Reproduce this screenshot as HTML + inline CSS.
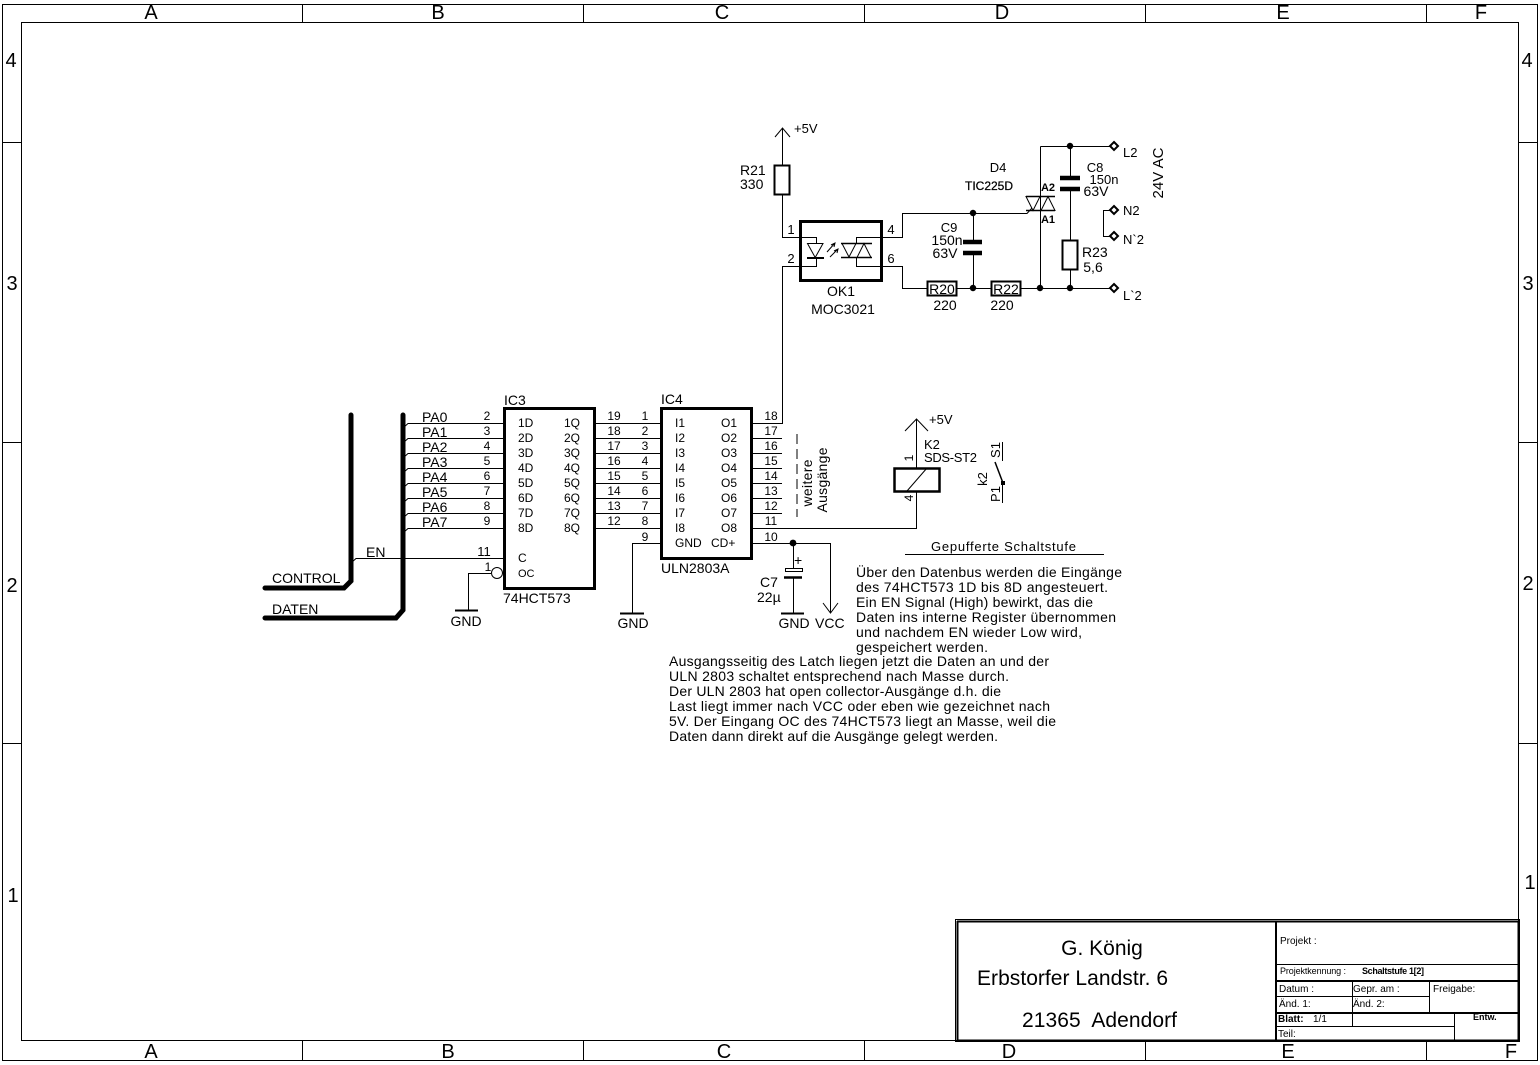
<!DOCTYPE html>
<html><head><meta charset="utf-8"><title>Schaltstufe</title>
<style>
html,body{margin:0;padding:0;background:#fff;width:1540px;height:1065px;overflow:hidden}
svg{display:block}
text{font-family:"Liberation Sans",Arial,sans-serif;fill:#000;font-size:14px}
.s12{font-size:12px}.s13{font-size:13px}.s10{font-size:10px}.s11{font-size:11px}.s9{font-size:9px}.s14{font-size:14px}
.m{text-anchor:middle}
.fr{font-size:20px;text-anchor:middle}
.big{font-size:21px}
.l{fill:none;stroke:#000;stroke-width:1}
.t{fill:none;stroke:#000;stroke-width:3}
.b{fill:none;stroke:#000;stroke-width:5;stroke-linecap:round;stroke-linejoin:miter}
</style></head><body>
<svg width="1540" height="1065" viewBox="0 0 1540 1065" xmlns="http://www.w3.org/2000/svg">
<rect width="1540" height="1065" fill="#fff"/>
<!-- frame -->
<rect class="l" x="2.5" y="4.5" width="1535" height="1056"/>
<rect class="l" x="21.5" y="22.5" width="1497" height="1018"/>
<path class="l" d="M302.5 4V22M583.5 4V22M864.5 4V22M1145.5 4V22M1426.5 4V22M302.5 1041V1060M583.5 1041V1060M864.5 1041V1060M1145.5 1041V1060M1426.5 1041V1060M2 142.5H21M2 442.5H21M2 743.5H21M1519 142.5H1537M1519 442.5H1537M1519 743.5H1537"/>
<g>
<text class="fr" x="151" y="19">A</text><text class="fr" x="438" y="19">B</text><text class="fr" x="722" y="19">C</text><text class="fr" x="1002" y="19">D</text><text class="fr" x="1283" y="19">E</text><text class="fr" x="1481" y="19">F</text>
<text class="fr" x="151" y="1058">A</text><text class="fr" x="448" y="1058">B</text><text class="fr" x="724" y="1058">C</text><text class="fr" x="1009" y="1058">D</text><text class="fr" x="1288" y="1058">E</text><text class="fr" x="1511" y="1058">F</text>
<text class="fr" x="11" y="67">4</text><text class="fr" x="12" y="290">3</text><text class="fr" x="12" y="592">2</text><text class="fr" x="13" y="902">1</text>
<text class="fr" x="1527" y="67">4</text><text class="fr" x="1528" y="290">3</text><text class="fr" x="1528" y="590">2</text><text class="fr" x="1530" y="889">1</text>
</g>

<!-- title block -->
<rect class="l" x="955.5" y="919.5" width="564" height="122"/>
<path d="M957.5 921V1041M957 921.5H1519M1276 921V1041M1518.5 921V1041M957 1040.5H1519" fill="none" stroke="#000" stroke-width="2"/>
<path class="l" d="M1276 964.5H1519M1276 996.5H1429M1352.5 981V1026M1429.5 981V1013M1454.5 1013V1041M1276 1026.5H1454"/>
<path d="M1276 981H1519M1276 1013H1519" fill="none" stroke="#000" stroke-width="2"/>
<text class="big" x="1102" y="955" text-anchor="middle">G. König</text>
<text class="big" x="977" y="985" textLength="191">Erbstorfer Landstr. 6</text>
<text class="big" x="1022" y="1027" textLength="155" xml:space="preserve">21365  Adendorf</text>
<text class="s10" x="1280" y="944">Projekt :</text>
<text class="s9" x="1280" y="974" textLength="66">Projektkennung :</text>
<text class="s9" x="1362" y="974" font-weight="bold" textLength="62">Schaltstufe 1[2]</text>
<text class="s10" x="1279" y="992">Datum :</text>
<text class="s10" x="1353" y="992">Gepr. am :</text>
<text class="s10" x="1433" y="992">Freigabe:</text>
<text class="s10" x="1279" y="1007">Änd. 1:</text>
<text class="s10" x="1353" y="1007">Änd. 2:</text>
<text class="s10" x="1278" y="1022" font-weight="bold">Blatt:</text>
<text class="s10" x="1313" y="1022">1/1</text>
<text class="s9" x="1473" y="1020" font-weight="bold">Entw.</text>
<text class="s10" x="1278" y="1037">Teil:</text>

<!-- buses -->
<path class="b" d="M403 415V610L396 618H265"/>
<path class="b" d="M351 415V581L344 588H265"/>
<path class="l" d="M403 428L408 423.5H504M403 443L408 438.5H504M403 458L408 453.5H504M403 473L408 468.5H504M403 488L408 483.5H504M403 503L408 498.5H504M403 518L408 513.5H504M403 533L408 528.5H504"/>
<path class="l" d="M351 563L356 558.5H504"/>
<text x="272" y="583">CONTROL</text>
<text x="272" y="614">DATEN</text>
<text x="366" y="557">EN</text>
<text x="422" y="422">PA0</text><text x="422" y="437">PA1</text><text x="422" y="452">PA2</text><text x="422" y="467">PA3</text><text x="422" y="482">PA4</text><text x="422" y="497">PA5</text><text x="422" y="512">PA6</text><text x="422" y="527">PA7</text>
<g>
<text class="s12 m" x="487" y="420">2</text><text class="s12 m" x="487" y="435">3</text><text class="s12 m" x="487" y="450">4</text><text class="s12 m" x="487" y="465">5</text><text class="s12 m" x="487" y="480">6</text><text class="s12 m" x="487" y="495">7</text><text class="s12 m" x="487" y="510">8</text><text class="s12 m" x="487" y="525">9</text>
<text class="s13 m" x="484" y="556">11</text><text class="s12 m" x="488" y="571">1</text>
</g>
<!-- IC3 -->
<rect class="t" x="504.5" y="408.5" width="90" height="180"/>
<text x="504" y="405">IC3</text>
<text x="503" y="603">74HCT573</text>
<g>
<text class="s12" x="518" y="427">1D</text><text class="s12" x="518" y="442">2D</text><text class="s12" x="518" y="457">3D</text><text class="s12" x="518" y="472">4D</text><text class="s12" x="518" y="487">5D</text><text class="s12" x="518" y="502">6D</text><text class="s12" x="518" y="517">7D</text><text class="s12" x="518" y="532">8D</text>
<text class="s12" x="564" y="427">1Q</text><text class="s12" x="564" y="442">2Q</text><text class="s12" x="564" y="457">3Q</text><text class="s12" x="564" y="472">4Q</text><text class="s12" x="564" y="487">5Q</text><text class="s12" x="564" y="502">6Q</text><text class="s12" x="564" y="517">7Q</text><text class="s12" x="564" y="532">8Q</text>
<text class="s12" x="518" y="562">C</text><text class="s11" x="518" y="577">OC</text>
</g>
<circle class="l" cx="497" cy="573" r="5.5"/>
<path class="l" d="M491 573.5H468.5V610"/>
<path d="M455 610.5H478" stroke="#000" stroke-width="2"/>
<text class="m" x="466" y="626">GND</text>

<!-- IC3 to IC4 -->
<path class="l" d="M594 423.5H661M594 438.5H661M594 453.5H661M594 468.5H661M594 483.5H661M594 498.5H661M594 513.5H661M594 528.5H661"/>
<g>
<text class="s12 m" x="614" y="420">19</text><text class="s12 m" x="614" y="435">18</text><text class="s12 m" x="614" y="450">17</text><text class="s12 m" x="614" y="465">16</text><text class="s12 m" x="614" y="480">15</text><text class="s12 m" x="614" y="495">14</text><text class="s12 m" x="614" y="510">13</text><text class="s12 m" x="614" y="525">12</text>
<text class="s12 m" x="645" y="420">1</text><text class="s12 m" x="645" y="435">2</text><text class="s12 m" x="645" y="450">3</text><text class="s12 m" x="645" y="465">4</text><text class="s12 m" x="645" y="480">5</text><text class="s12 m" x="645" y="495">6</text><text class="s12 m" x="645" y="510">7</text><text class="s12 m" x="645" y="525">8</text><text class="s12 m" x="645" y="541">9</text>
</g>
<!-- IC4 -->
<rect class="t" x="661.5" y="408.5" width="90" height="150"/>
<text x="661" y="404">IC4</text>
<text x="661" y="573">ULN2803A</text>
<text class="s12" x="675" y="427">I1</text><text class="s12" x="675" y="442">I2</text><text class="s12" x="675" y="457">I3</text><text class="s12" x="675" y="472">I4</text><text class="s12" x="675" y="487">I5</text><text class="s12" x="675" y="502">I6</text><text class="s12" x="675" y="517">I7</text><text class="s12" x="675" y="532">I8</text>
<text class="s12" x="675" y="547">GND</text><text class="s12" x="711" y="547">CD+</text>
<g text-anchor="end">
<text class="s12" x="737" y="427">O1</text><text class="s12" x="737" y="442">O2</text><text class="s12" x="737" y="457">O3</text><text class="s12" x="737" y="472">O4</text><text class="s12" x="737" y="487">O5</text><text class="s12" x="737" y="502">O6</text><text class="s12" x="737" y="517">O7</text><text class="s12" x="737" y="532">O8</text>
</g>
<path class="l" d="M752 423.5H782.5V266.5H816.5V258M752 438.5H782M752 453.5H782M752 468.5H782M752 483.5H782M752 498.5H782M752 513.5H782"/>
<g>
<text class="s12 m" x="771" y="420">18</text><text class="s12 m" x="771" y="435">17</text><text class="s12 m" x="771" y="450">16</text><text class="s12 m" x="771" y="465">15</text><text class="s12 m" x="771" y="480">14</text><text class="s12 m" x="771" y="495">13</text><text class="s12 m" x="771" y="510">12</text><text class="s12 m" x="771" y="525">11</text><text class="s12 m" x="771" y="541">10</text>
</g>
<path class="l" d="M797 434V517" stroke-dasharray="10 5"/>
<text class="s14 m" transform="translate(812 483) rotate(-90)" textLength="47">weitere</text>
<text class="s14 m" transform="translate(827 480) rotate(-90)" textLength="65">Ausgänge</text>

<!-- GND IC4 -->
<path class="l" d="M661 543.5H632.5V613"/>
<path d="M620 613.5H644" stroke="#000" stroke-width="2"/>
<text class="m" x="633" y="628">GND</text>
<!-- VCC + C7 -->
<path class="l" d="M752 543.5H830.5V613M823 603L830.5 613L838 603M793.5 543V568M793.5 577V613"/>
<circle cx="793" cy="543" r="3.4" fill="#000"/>
<rect class="l" x="785.5" y="568.5" width="17" height="3"/>
<path d="M784 577.5H802" stroke="#000" stroke-width="2.5"/>
<path d="M781 613.5H804" stroke="#000" stroke-width="2"/>
<text class="s14" x="794" y="565">+</text>
<text x="760" y="587">C7</text>
<text x="757" y="602">22µ</text>
<text class="m" x="794" y="628">GND</text>
<text x="815" y="628">VCC</text>

<!-- Relay -->
<path class="l" d="M752 528.5H916.5V491M916.5 468V419M905 431L916.5 419L928 431M907 491L927 468"/>
<rect x="894.5" y="468.5" width="45" height="23" fill="none" stroke="#000" stroke-width="2.5"/>
<text class="s13" x="929" y="424">+5V</text>
<text class="s13" x="924" y="449">K2</text>
<text class="s13" x="924" y="462" textLength="53">SDS-ST2</text>
<text class="s12 m" transform="translate(913 458) rotate(-90)">1</text>
<text class="s12 m" transform="translate(913 498) rotate(-90)">4</text>
<!-- switch -->
<path class="l" d="M1002.5 442V461M1002.5 483V503"/>
<path d="M995 462L1003 483" stroke="#000" stroke-width="1.5"/>
<rect x="1001" y="481" width="4" height="4" fill="#000"/>
<text class="s13 m" transform="translate(1000 450) rotate(-90)">S1</text>
<text class="s13 m" transform="translate(987 479) rotate(-90)">k2</text>
<text class="s13 m" transform="translate(1000 494) rotate(-90)">P1</text>

<!-- Text -->
<text class="s13" x="931" y="551" textLength="145">Gepufferte Schaltstufe</text>
<path class="l" d="M905 554.5H1104"/>
<g>
<text x="856" y="577" textLength="266">Über den Datenbus werden die Eingänge</text>
<text x="856" y="592" textLength="252">des 74HCT573 1D bis 8D angesteuert.</text>
<text x="856" y="607" textLength="237">Ein EN Signal (High) bewirkt, das die</text>
<text x="856" y="622" textLength="260">Daten ins interne Register übernommen</text>
<text x="856" y="637" textLength="226">und nachdem EN wieder Low wird,</text>
<text x="856" y="652" textLength="132">gespeichert werden.</text>
<text x="669" y="666" textLength="380">Ausgangsseitig des Latch liegen jetzt die Daten an und der</text>
<text x="669" y="681" textLength="340">ULN 2803 schaltet entsprechend nach Masse durch.</text>
<text x="669" y="696" textLength="332">Der ULN 2803 hat open collector-Ausgänge d.h. die</text>
<text x="669" y="711" textLength="381">Last liegt immer nach VCC oder eben wie gezeichnet nach</text>
<text x="669" y="726" textLength="387">5V. Der Eingang OC des 74HCT573 liegt an Masse, weil die</text>
<text x="669" y="741" textLength="329">Daten dann direkt auf die Ausgänge gelegt werden.</text>
</g>

<!-- R21 + 5V -->
<path class="l" d="M782.5 128V165M782.5 195V237.5H816.5V243M775 137L782.5 128L790 137"/>
<rect x="774.5" y="165.5" width="15" height="29" fill="none" stroke="#000" stroke-width="2"/>
<text class="s13" x="794" y="133">+5V</text>
<text x="740" y="175">R21</text>
<text x="740" y="189">330</text>

<!-- OK1 -->
<rect class="t" x="800.5" y="221.5" width="81" height="59"/>
<path class="l" d="M807.5 243.5H823L815.2 257.5Z"/>
<path d="M807 258H824" stroke="#000" stroke-width="2"/>
<path class="l" d="M827 252L835 243M831 245L835 243L834 247M830 257L838 249M834 251L838 249L837 253"/>
<path class="l" d="M882 237.5H856.5V243M842 243.5H856L849 257ZM857 257.5H871L864 243.5ZM856.5 257V266.5H882"/>
<path d="M841 243.5H872M841 257.5H872" stroke="#000" stroke-width="1.6"/>
<text class="s13 m" x="791" y="234">1</text><text class="s13 m" x="791" y="263">2</text><text class="s13 m" x="891" y="234">4</text><text class="s13 m" x="891" y="263">6</text>
<text class="m" x="841" y="296">OK1</text>
<text class="m" x="843" y="314">MOC3021</text>

<!-- right network -->
<path class="l" d="M882 237.5H902.5V213.5H1027L1032 208M882 266.5H902.5V288.5H927M957 288.5H991M1021 288.5H1113M973.5 213V242M973.5 253V288M1040.5 146.5V288M1040.5 146.5H1113M1070.5 146V178M1070.5 189V240M1070.5 270V288M1113 210.5H1103.5V236.5H1113"/>
<rect x="927.5" y="281.5" width="29" height="14" fill="#fff" stroke="#000" stroke-width="2"/>
<rect x="991.5" y="281.5" width="29" height="14" fill="#fff" stroke="#000" stroke-width="2"/>
<text class="m" x="942" y="294">R20</text>
<text class="m" x="1006" y="294">R22</text>
<text class="m" x="945" y="310">220</text>
<text class="m" x="1002" y="310">220</text>
<path d="M963 242H982M963 253H982M1060 178H1080M1060 189H1080" stroke="#000" stroke-width="4.5"/>
<g fill="#000"><circle cx="973" cy="213" r="3.2"/><circle cx="973" cy="288" r="3.2"/><circle cx="1040" cy="288" r="3.2"/><circle cx="1070" cy="288" r="3.2"/><circle cx="1070" cy="146" r="3.2"/></g>
<rect x="1062.5" y="240.5" width="15" height="29" fill="#fff" stroke="#000" stroke-width="2"/>
<!-- triac -->
<path d="M1026 196.5H1055M1026 210.5H1055" stroke="#000" stroke-width="1.6"/>
<path class="l" d="M1026 196.5H1040L1033 210.5ZM1041 210.5H1055L1048 196.5Z"/>
<text class="s13 m" x="998" y="172">D4</text>
<text class="s12 m" x="989" y="190" stroke="#000" stroke-width=".25">TIC225D</text>
<text class="s11 m" x="1048" y="191" font-weight="bold">A2</text>
<text class="s11 m" x="1048" y="223" font-weight="bold">A1</text>
<text class="s13 m" x="949" y="232">C9</text>
<text class="s14 m" x="947" y="245">150n</text>
<text class="s14 m" x="945" y="258">63V</text>
<text class="s13 m" x="1095" y="172">C8</text>
<text class="s13 m" x="1104" y="184">150n</text>
<text class="s14 m" x="1096" y="196">63V</text>
<text x="1082" y="257">R23</text>
<text class="s14 m" x="1093" y="272">5,6</text>
<!-- terminals -->
<g fill="#fff" stroke="#000" stroke-width="2">
<path d="M1114 142L1118 146L1114 150L1110 146Z"/><path d="M1114 206L1118 210L1114 214L1110 210Z"/><path d="M1114 232L1118 236L1114 240L1110 236Z"/><path d="M1114 284L1118 288L1114 292L1110 288Z"/>
</g>
<text class="s13" x="1123" y="157">L2</text>
<text class="s13" x="1123" y="215">N2</text>
<text class="s13" x="1123" y="244">N`2</text>
<text class="s13" x="1123" y="300">L`2</text>
<text class="m" style="font-size:15px" transform="translate(1163 173) rotate(-90)">24V AC</text>
</svg>
</body></html>
